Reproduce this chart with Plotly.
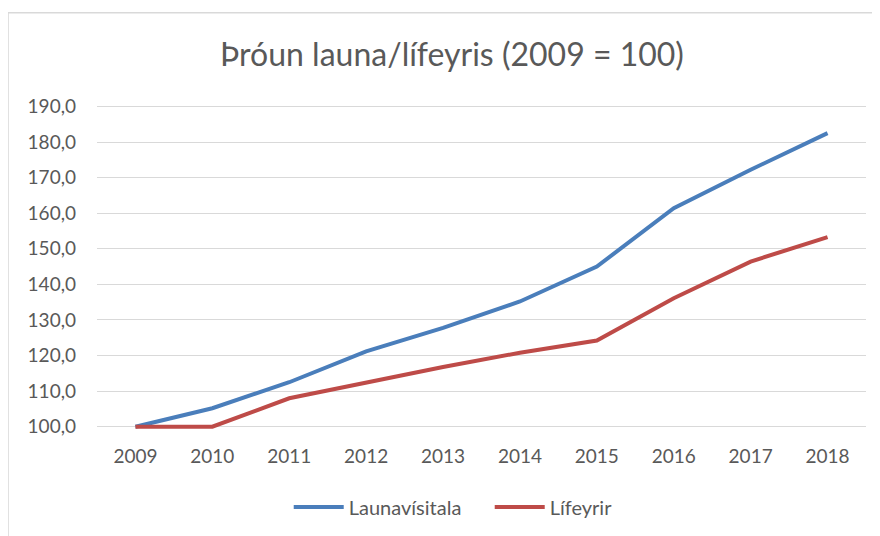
import plotly.graph_objects as go

years = ["2009", "2010", "2011", "2012", "2013", "2014", "2015", "2016", "2017", "2018"]
launavisitala = [100.0, 105.2, 112.5, 121.2, 127.8, 135.2, 145.0, 161.4, 172.2, 182.5]
lifeyrir = [100.0, 100.0, 108.0, 112.4, 116.8, 120.8, 124.2, 136.1, 146.4, 153.3]
y_ticks = [100, 110, 120, 130, 140, 150, 160, 170, 180, 190]
y_ticklabels = ["100,0", "110,0", "120,0", "130,0", "140,0", "150,0", "160,0", "170,0", "180,0", "190,0"]

font_family = "Lato, 'Open Sans', sans-serif"
grey = "#595959"

fig = go.Figure()
fig.add_trace(go.Scatter(x=years, y=launavisitala, mode="lines", name="Launavísitala",
                         line=dict(color="#4A7EBB", width=4)))
fig.add_trace(go.Scatter(x=years, y=lifeyrir, mode="lines", name="Lífeyrir",
                         line=dict(color="#BE4B48", width=4)))

fig.update_layout(
    width=880, height=536,
    margin=dict(l=89, r=22, t=97.3, b=113),
    paper_bgcolor="white", plot_bgcolor="white",
    font=dict(family=font_family, color=grey, size=19),
    title=dict(text="Þróun launa/lífeyris (2009 = 100)", x=0.5045, xref="container",
               xanchor="center", y=1 - 47 / 536, yanchor="middle",
               font=dict(size=32, color=grey, family=font_family)),
    legend=dict(orientation="h", x=0.319, xref="container", xanchor="left",
                y=1 - 499 / 536, yref="container", yanchor="middle",
                font=dict(size=20, color=grey), tracegroupgap=0,
                itemwidth=50, entrywidth=136),
    showlegend=True,
)
fig.update_xaxes(type="category", range=[-0.5, 9.5], showgrid=False, showline=False,
                 zeroline=False, ticks="", ticklabelstandoff=12,
                 tickfont=dict(size=19, color=grey))
fig.update_yaxes(range=[98.8, 190.4], tickvals=y_ticks, ticktext=y_ticklabels,
                 showgrid=True, gridcolor="#D9D9D9", gridwidth=1, zeroline=False,
                 showline=False, ticks="", ticklabelstandoff=20,
                 tickfont=dict(size=19, color=grey))
fig.add_shape(type="rect", xref="paper", yref="paper",
              x0=-0.1157, x1=1.3, y0=-0.6, y1=1.283,
              line=dict(color="#D9D9D9", width=1.5), fillcolor="rgba(0,0,0,0)", layer="below")

fig.write_html("out.html")
